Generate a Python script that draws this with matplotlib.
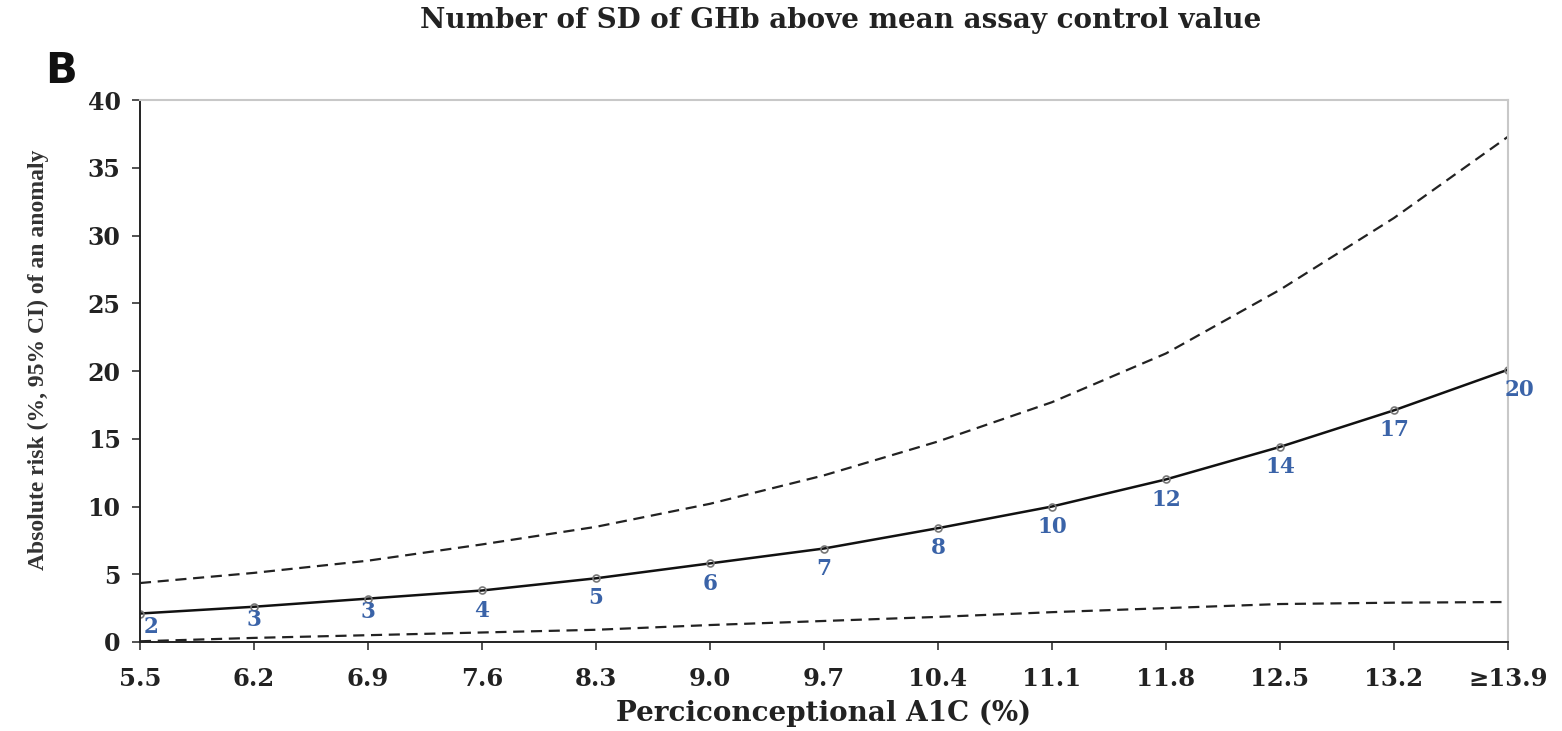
import numpy as np
import matplotlib.pyplot as plt

a1c_labels = ["5.5", "6.2", "6.9", "7.6", "8.3", "9.0", "9.7", "10.4",
              "11.1", "11.8", "12.5", "13.2", "\u226513.9"]
risk = [2.1, 2.6, 3.2, 3.8, 4.7, 5.8, 6.9, 8.4, 10.0, 12.0, 14.4, 17.1, 20.1]
upper_ci = [4.35, 5.1, 6.0, 7.2, 8.5, 10.2, 12.3, 14.8, 17.7, 21.3, 26.0, 31.3, 37.3]
lower_ci = [0.05, 0.3, 0.5, 0.7, 0.9, 1.25, 1.55, 1.85, 2.2, 2.5, 2.8, 2.9, 2.95]
sd_labels = ["2", "3", "3", "4", "5", "6", "7", "8", "10", "12", "14", "17", "20"]

x = np.arange(len(a1c_labels))

plt.rcParams['font.family'] = ['DejaVu Serif']

fig = plt.figure(figsize=(15.62, 7.31), dpi=100)
ax = fig.add_axes([0.0896, 0.1218, 0.8758, 0.7412])

ax.plot(x, upper_ci, color='#222222', lw=1.6, ls=(0, (5, 3)))
ax.plot(x, lower_ci, color='#222222', lw=1.6, ls=(0, (5, 3)))
ax.plot(x, risk, color='#111111', lw=1.8, marker='o', ms=5,
        mfc='none', mec='#777777', mew=1.2)

for i, (xi, yi, lab) in enumerate(zip(x, risk, sd_labels)):
    dx = 8 if i in (0, len(x) - 1) else 0
    dy = -9.5 if i < 3 else -14.5
    ax.annotate(lab, (xi, yi), xytext=(dx, dy), textcoords='offset points',
                ha='center', va='center', color='#3a63a8', fontsize=15.5,
                fontweight='bold')

ax.set_xlim(0, len(x) - 1)
ax.set_ylim(0, 40)
ax.set_yticks(np.arange(0, 41, 5))
ax.set_xticks(x)
ax.set_xticklabels(a1c_labels)
ax.tick_params(axis='both', direction='out', length=6, width=1.2, color='#333333')
ax.tick_params(axis='x', labelsize=17.5, pad=12)
ax.tick_params(axis='y', labelsize=17, pad=8)
for lab in ax.get_xticklabels() + ax.get_yticklabels():
    lab.set_fontweight('bold')
    lab.set_color('#222222')

for s in ['top', 'right']:
    ax.spines[s].set_color('#c8c8c8')
    ax.spines[s].set_linewidth(1.5)
for s in ['left', 'bottom']:
    ax.spines[s].set_color('#222222')
    ax.spines[s].set_linewidth(1.4)

ax.set_xlabel("Perciconceptional A1C (%)", fontsize=20, fontweight='bold',
              color='#222222', va='center')
ax.xaxis.set_label_coords(0.5, -0.131)
ax.set_ylabel("Absolute risk (%, 95% CI) of an anomaly", fontsize=17,
              fontweight='bold', color='#333333', family='Liberation Serif',
              va='center')
ax.yaxis.set_label_coords(-0.074, 0.52)

fig.text(0.538, 0.972, "Number of SD of GHb above mean assay control value",
         ha='center', va='center', fontsize=20, fontweight='bold', color='#222222')
fig.text(0.039, 0.903, "B", fontsize=30, fontweight='bold',
         family='DejaVu Sans', ha='center', va='center', color='#111111')

fig.savefig("out.png", dpi=100)
